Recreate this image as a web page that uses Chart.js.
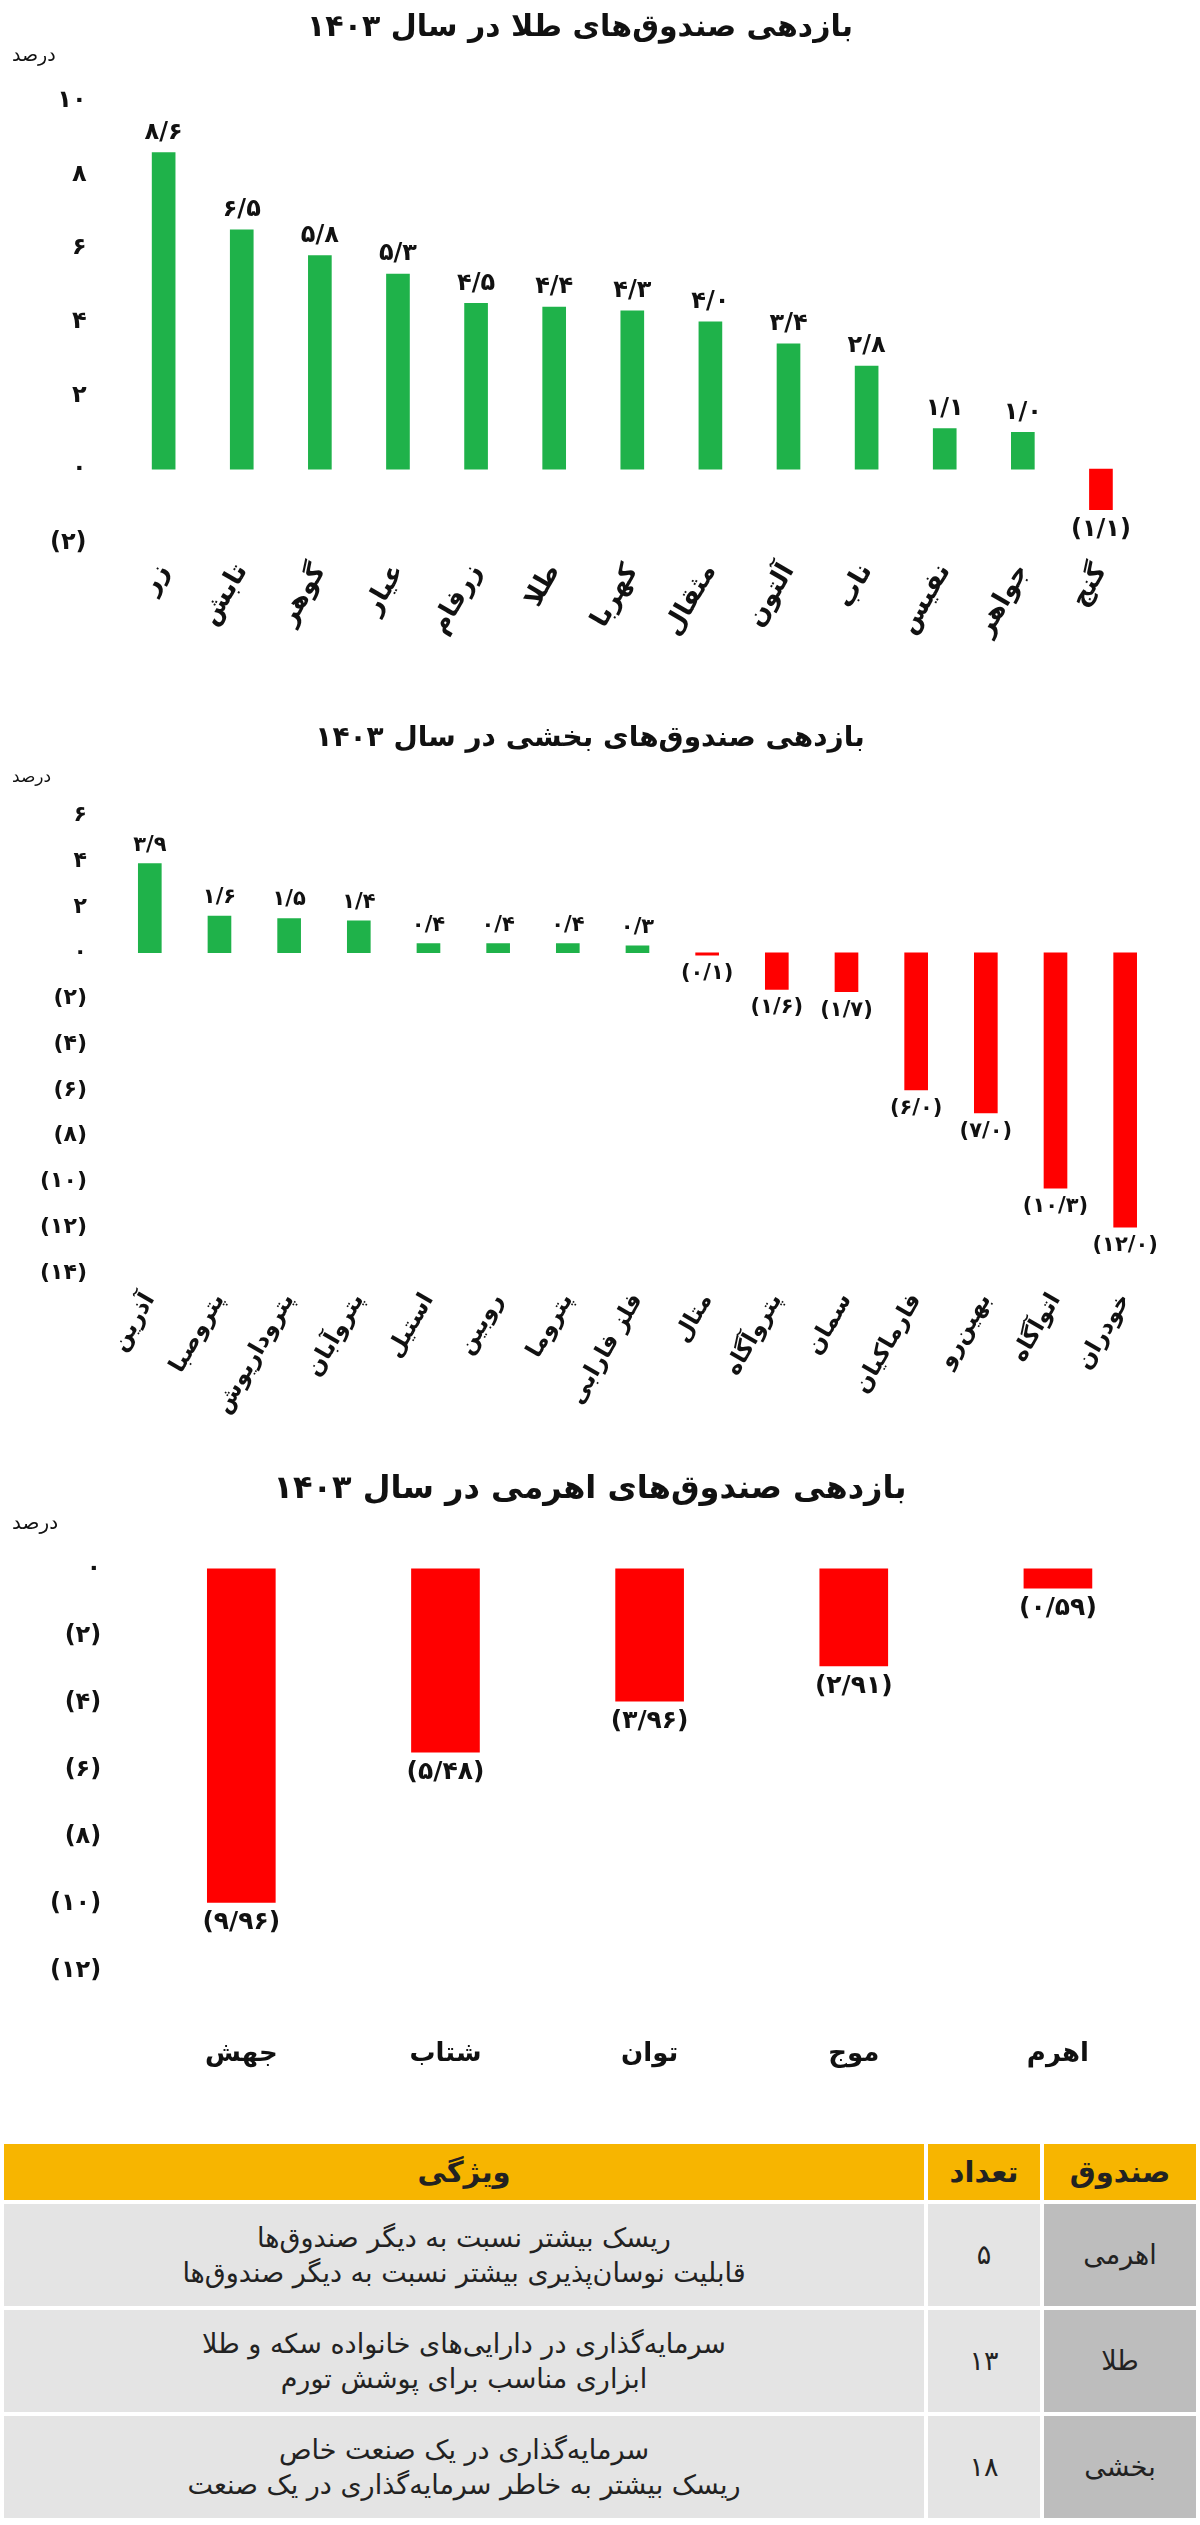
<!DOCTYPE html>
<html><head><meta charset="utf-8">
<script src="https://cdn.jsdelivr.net/npm/chart.js@4/dist/chart.umd.min.js"></script>
<style>
body{margin:0;background:#fff;width:1200px;height:2525px;position:relative;font-family:"DejaVu Sans",sans-serif;overflow:hidden}
.c{position:absolute;left:0;width:1200px}
table{position:absolute;left:0;top:2140px;width:1200px;border-collapse:separate;border-spacing:4px;direction:rtl;font-family:"DejaVu Sans";}
td,th{text-align:center;color:#222;font-size:27px}
th{background:#f7b500;height:54px;font-weight:bold;font-size:29px}
td{background:#e4e4e4;height:100px;line-height:1.3}
td.k{background:#bdbdbd}
</style></head><body>
<div class="c" style="top:0;height:660px"><canvas id="c1"></canvas></div>
<div class="c" style="top:712px;height:725px"><canvas id="c2"></canvas></div>
<div class="c" style="top:1460px;height:680px"><canvas id="c3"></canvas></div>
<table>
<tr><th style="width:150px">صندوق</th><th style="width:110px">تعداد</th><th>ویژگی</th></tr>
<tr><td class="k">اهرمی</td><td>۵</td><td>ریسک بیشتر نسبت به دیگر صندوق‌ها<br>قابلیت نوسان‌پذیری بیشتر نسبت به دیگر صندوق‌ها</td></tr>
<tr><td class="k">طلا</td><td>۱۳</td><td>سرمایه‌گذاری در دارایی‌های خانواده سکه و طلا<br>ابزاری مناسب برای پوشش تورم</td></tr>
<tr><td class="k">بخشی</td><td>۱۸</td><td>سرمایه‌گذاری در یک صنعت خاص<br>ریسک بیشتر به خاطر سرمایه‌گذاری در یک صنعت</td></tr>
</table>
<script>
const goldLabels=["زر","تابش","گوهر","عیار","زرفام","طلا","کهربا","مثقال","آلتون","ناب","نفیس","جواهر","گنج"];
const goldValues=[8.6,6.5,5.8,5.3,4.5,4.4,4.3,4.0,3.4,2.8,1.1,1.0,-1.1];
const sectorLabels=["آذرین","پتروصبا","پتروداریوش","پتروآبان","استیل","روبین","پتروما","فلز فارابی","متال","پتروآگاه","سمان","فارماکیان","بهین‌رو","اتوآگاه","خودران"];
const sectorValues=[3.9,1.6,1.5,1.4,0.4,0.4,0.4,0.3,-0.1,-1.6,-1.7,-6.0,-7.0,-10.3,-12.0];
const levLabels=["جهش","شتاب","توان","موج","اهرم"];
const levValues=[-9.96,-5.48,-3.96,-2.91,-0.59];
const titles=["بازدهی صندوق‌های طلا در سال ۱۴۰۳","بازدهی صندوق‌های بخشی در سال ۱۴۰۳","بازدهی صندوق‌های اهرمی در سال ۱۴۰۳"];

const fa=s=>String(s).replace(/\d/g,d=>"۰۱۲۳۴۵۶۷۸۹"[d]).replace(/\./g,"/");
const fmt=(v,dec)=>{const t=fa(Math.abs(v).toFixed(dec));return v<0?"("+t+")":t;};
const F='"DejaVu Sans", sans-serif';
function make(id,labels,values,opt){
  const dec=opt.dec;
  new Chart(document.getElementById(id),{type:'bar',
    data:{labels,datasets:[{data:values,backgroundColor:values.map(v=>v<0?'#ff0000':'#1fb24a'),barThickness:opt.bw}]},
    options:{responsive:true,maintainAspectRatio:false,animation:false,
      layout:{padding:opt.pad},
      plugins:{legend:{display:false},tooltip:{enabled:false},
        title:{display:true,text:opt.title,font:{family:F,size:opt.ts,weight:'bold'},color:'#111',padding:{top:0,bottom:opt.tb}}},
      scales:{
        x:{grid:{display:false},border:{display:false},
          ticks:{color:'#111',font:{family:F,size:opt.xs,weight:'bold'},minRotation:opt.rot,maxRotation:opt.rot,autoSkip:false,padding:opt.xp}},
        y:{min:opt.min,max:opt.max,grid:{display:false},border:{display:false},
          ticks:{stepSize:2,color:'#111',font:{family:F,size:opt.ys,weight:'bold'},padding:opt.yp,callback:v=>fmt(v,0)}}}},
    plugins:[{id:'vl',afterDatasetsDraw(ch){
      const ctx=ch.ctx;const m=ch.getDatasetMeta(0);
      ctx.save();ctx.fillStyle='#111';ctx.font='bold '+opt.vs+'px '+F;ctx.textAlign='center';
      m.data.forEach((b,i)=>{const v=values[i];
        if(v>=0){ctx.textBaseline='bottom';ctx.fillText(fmt(v,dec),b.x,b.y-8);}
        else{ctx.textBaseline='top';ctx.fillText(fmt(v,dec),b.x,b.y+8);}});
      const ya=ch.scales.y;ctx.font=opt.us+'px '+F;ctx.textAlign='left';ctx.textBaseline='bottom';
      ctx.fillText('درصد',12,ya.top-opt.uy);
      ctx.restore();}}]});
}
make('c1',goldLabels,goldValues,{dec:1,bw:23,pad:{left:20,right:60,top:10,bottom:10},title:titles[0],ts:30,tb:55,xs:26,rot:60,xp:8,min:-2,max:10,ys:24,yp:30,vs:24,us:19,uy:35});
make('c2',sectorLabels,sectorValues,{dec:1,bw:23,pad:{left:20,right:40,top:10,bottom:10},title:titles[1],ts:28,tb:60,xs:23,rot:60,xp:8,min:-14,max:6,ys:22,yp:20,vs:21,us:17,uy:30});
make('c3',levLabels,levValues,{dec:2,bw:68,pad:{left:20,right:40,top:10,bottom:10},title:titles[2],ts:32,tb:60,xs:26,rot:0,xp:60,min:-12,max:0,ys:24,yp:30,vs:25,us:20,uy:35});
</script>
</body></html>
